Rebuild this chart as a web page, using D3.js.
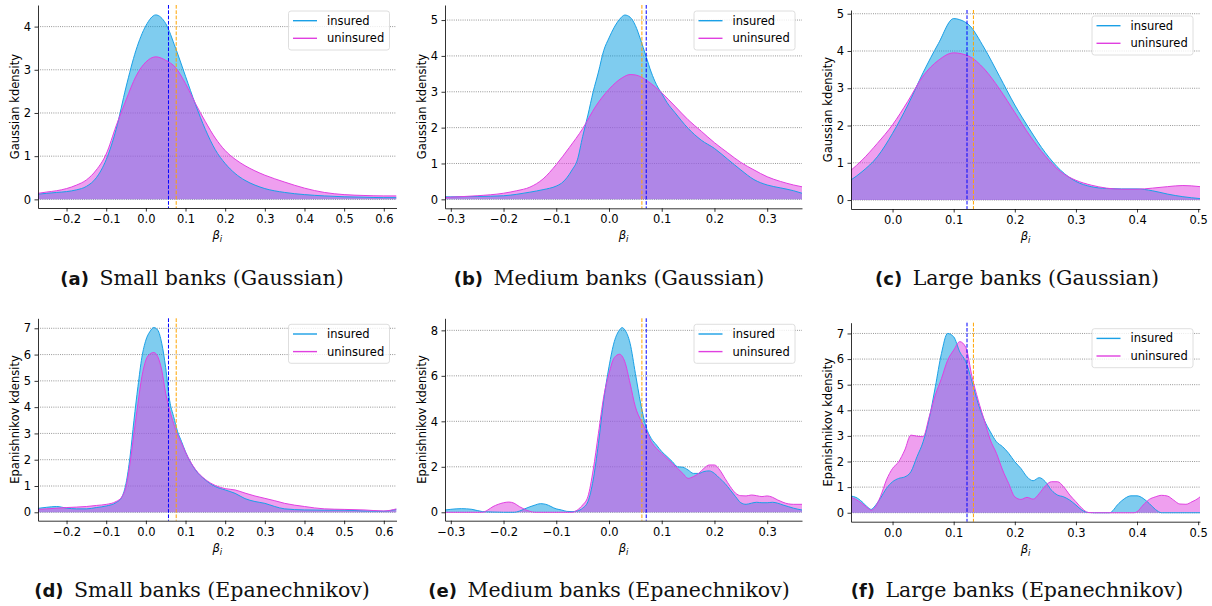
<!DOCTYPE html>
<html>
<head>
<meta charset="utf-8">
<script src="https://cdn.jsdelivr.net/npm/d3@7"></script>
<style>
  body { margin: 0; background: #fff; }
  text { font-family: "DejaVu Sans"; }
</style>
</head>
<body>
<svg id="fig"></svg>
<script>
// ---- data: [beta_i, density] ----
const smallGaussIns = [[-0.272,0.12],[-0.25,0.14],[-0.225,0.16],[-0.2,0.18],[-0.175,0.22],[-0.15,0.3],[-0.125,0.5],[-0.1,0.92],[-0.075,1.62],[-0.05,2.6],[-0.025,3.45],[0,4.02],[0.025,4.27],[0.05,4.07],[0.075,3.5],[0.1,2.85],[0.125,2.2],[0.15,1.62],[0.175,1.15],[0.2,0.83],[0.225,0.6],[0.25,0.44],[0.275,0.33],[0.3,0.25],[0.35,0.16],[0.4,0.11],[0.45,0.08],[0.5,0.06],[0.55,0.05],[0.6,0.04],[0.632,0.04]];
const smallGaussUnins = [[-0.272,0.14],[-0.25,0.17],[-0.225,0.2],[-0.2,0.25],[-0.175,0.33],[-0.15,0.45],[-0.125,0.68],[-0.1,1.05],[-0.075,1.7],[-0.05,2.3],[-0.025,2.85],[0,3.18],[0.025,3.3],[0.05,3.22],[0.075,3.05],[0.1,2.68],[0.125,2.22],[0.15,1.8],[0.175,1.42],[0.2,1.13],[0.225,0.93],[0.25,0.78],[0.275,0.66],[0.3,0.56],[0.35,0.4],[0.4,0.26],[0.45,0.16],[0.5,0.11],[0.55,0.09],[0.6,0.08],[0.632,0.08]];

const medGaussIns = [[-0.311,0.07],[-0.3,0.07],[-0.25,0.08],[-0.2,0.1],[-0.175,0.14],[-0.15,0.2],[-0.125,0.27],[-0.1,0.37],[-0.09,0.45],[-0.08,0.6],[-0.07,0.82],[-0.06,1.1],[-0.05,1.75],[-0.04,2.35],[-0.03,3.0],[-0.02,3.55],[-0.01,4.15],[0,4.5],[0.01,4.8],[0.02,5.02],[0.03,5.14],[0.04,5.08],[0.05,4.85],[0.06,4.45],[0.07,4.0],[0.08,3.55],[0.09,3.2],[0.1,2.95],[0.11,2.7],[0.125,2.42],[0.15,1.98],[0.175,1.65],[0.2,1.42],[0.225,1.12],[0.25,0.82],[0.275,0.55],[0.3,0.4],[0.325,0.32],[0.35,0.24],[0.366,0.17]];
const medGaussUnins = [[-0.311,0.05],[-0.3,0.06],[-0.25,0.1],[-0.2,0.17],[-0.175,0.24],[-0.15,0.34],[-0.125,0.57],[-0.1,0.97],[-0.075,1.45],[-0.05,1.97],[-0.025,2.6],[0,3.07],[0.025,3.39],[0.04,3.48],[0.05,3.47],[0.075,3.28],[0.1,2.97],[0.125,2.6],[0.15,2.22],[0.175,1.9],[0.2,1.58],[0.225,1.3],[0.25,1.03],[0.275,0.82],[0.3,0.63],[0.325,0.5],[0.35,0.4],[0.366,0.35]];

const largeGaussIns = [[-0.068,0.54],[-0.05,0.76],[-0.025,1.16],[0,1.79],[0.025,2.55],[0.05,3.42],[0.075,4.2],[0.1,4.87],[0.11,4.84],[0.125,4.7],[0.15,4.08],[0.175,3.32],[0.2,2.55],[0.225,1.88],[0.25,1.27],[0.275,0.8],[0.3,0.5],[0.325,0.36],[0.35,0.31],[0.375,0.3],[0.4,0.3],[0.425,0.25],[0.45,0.16],[0.475,0.09],[0.503,0.04]];
const largeGaussUnins = [[-0.068,0.8],[-0.05,1.07],[-0.025,1.52],[0,2.02],[0.025,2.65],[0.05,3.33],[0.075,3.75],[0.1,3.95],[0.125,3.86],[0.15,3.52],[0.175,2.98],[0.2,2.35],[0.225,1.72],[0.25,1.18],[0.275,0.76],[0.3,0.53],[0.325,0.4],[0.35,0.32],[0.375,0.29],[0.4,0.29],[0.425,0.32],[0.45,0.36],[0.475,0.39],[0.503,0.36]];

const smallEpanIns = [[-0.272,0.15],[-0.25,0.19],[-0.225,0.22],[-0.2,0.16],[-0.175,0.13],[-0.15,0.13],[-0.125,0.18],[-0.1,0.24],[-0.075,0.37],[-0.06,0.6],[-0.05,1.1],[-0.04,2.1],[-0.03,3.5],[-0.02,4.78],[-0.01,5.9],[0,6.55],[0.01,6.87],[0.02,7.03],[0.03,6.93],[0.04,6.43],[0.05,5.5],[0.06,4.25],[0.07,3.64],[0.08,3.07],[0.09,2.69],[0.1,2.3],[0.125,1.61],[0.15,1.23],[0.175,0.98],[0.2,0.85],[0.225,0.72],[0.25,0.52],[0.275,0.41],[0.3,0.34],[0.325,0.22],[0.35,0.13],[0.4,0.09],[0.45,0.08],[0.5,0.08],[0.55,0.05],[0.6,0.04],[0.632,0.11]];
const smallEpanUnins = [[-0.272,0.11],[-0.25,0.13],[-0.2,0.18],[-0.15,0.22],[-0.125,0.26],[-0.1,0.3],[-0.075,0.41],[-0.06,0.6],[-0.05,0.98],[-0.04,1.86],[-0.03,3.0],[-0.02,4.14],[-0.01,5.16],[0,5.79],[0.01,6.02],[0.02,6.08],[0.03,5.92],[0.04,5.41],[0.05,4.52],[0.06,3.89],[0.07,3.38],[0.08,2.94],[0.09,2.62],[0.1,2.28],[0.125,1.63],[0.15,1.25],[0.175,1.02],[0.2,0.9],[0.225,0.85],[0.25,0.73],[0.275,0.62],[0.3,0.53],[0.325,0.44],[0.35,0.34],[0.4,0.22],[0.45,0.13],[0.5,0.11],[0.55,0.09],[0.6,0.05],[0.632,0.13]];

const medEpanIns = [[-0.311,0.1],[-0.3,0.13],[-0.28,0.16],[-0.26,0.13],[-0.24,0.03],[-0.22,0.01],[-0.2,0],[-0.18,0],[-0.17,0.05],[-0.16,0.15],[-0.14,0.32],[-0.13,0.38],[-0.12,0.35],[-0.1,0.15],[-0.09,0.1],[-0.08,0.04],[-0.07,0.03],[-0.06,0.06],[-0.05,0.18],[-0.04,0.47],[-0.03,1.42],[-0.02,3.03],[-0.01,4.94],[0,6.4],[0.01,7.5],[0.02,8.02],[0.025,8.12],[0.03,8.02],[0.04,7.43],[0.05,6.11],[0.06,4.79],[0.07,3.77],[0.08,3.25],[0.09,2.96],[0.1,2.67],[0.11,2.45],[0.12,2.23],[0.13,2.0],[0.14,1.98],[0.15,1.86],[0.16,1.71],[0.17,1.71],[0.18,1.79],[0.19,1.82],[0.2,1.71],[0.21,1.49],[0.22,1.27],[0.23,0.98],[0.24,0.69],[0.25,0.42],[0.26,0.35],[0.27,0.4],[0.28,0.44],[0.29,0.42],[0.3,0.42],[0.31,0.44],[0.32,0.4],[0.33,0.32],[0.34,0.25],[0.35,0.18],[0.366,0.1]];
const medEpanUnins = [[-0.311,0],[-0.24,0],[-0.23,0.1],[-0.22,0.25],[-0.21,0.35],[-0.2,0.42],[-0.19,0.45],[-0.18,0.4],[-0.17,0.25],[-0.16,0.13],[-0.15,0.04],[-0.14,0],[-0.07,0],[-0.06,0.1],[-0.05,0.32],[-0.04,0.69],[-0.03,1.86],[-0.02,3.47],[-0.01,5.08],[0,6.1],[0.01,6.8],[0.02,6.95],[0.03,6.62],[0.04,5.67],[0.05,4.64],[0.06,4.06],[0.07,3.62],[0.08,3.11],[0.09,2.81],[0.1,2.59],[0.11,2.37],[0.12,2.15],[0.13,1.93],[0.14,1.71],[0.15,1.49],[0.16,1.57],[0.17,1.71],[0.18,1.93],[0.19,2.08],[0.2,2.08],[0.21,1.86],[0.22,1.49],[0.23,1.13],[0.24,0.84],[0.25,0.73],[0.26,0.72],[0.27,0.76],[0.28,0.73],[0.29,0.69],[0.3,0.72],[0.31,0.66],[0.32,0.54],[0.33,0.44],[0.34,0.37],[0.35,0.35],[0.366,0.35]];

const largeEpanIns = [[-0.068,0.65],[-0.06,0.6],[-0.05,0.43],[-0.04,0.2],[-0.035,0.13],[-0.03,0.23],[-0.02,0.56],[-0.01,0.95],[0,1.21],[0.01,1.34],[0.02,1.4],[0.03,1.6],[0.04,2.19],[0.05,2.77],[0.06,3.68],[0.07,4.92],[0.08,6.22],[0.09,7.0],[0.1,6.87],[0.11,6.28],[0.12,5.89],[0.13,5.11],[0.14,4.27],[0.15,3.62],[0.16,3.16],[0.17,2.77],[0.18,2.58],[0.19,2.32],[0.2,1.99],[0.21,1.73],[0.22,1.4],[0.23,1.25],[0.24,1.37],[0.25,1.21],[0.26,0.88],[0.27,0.69],[0.28,0.62],[0.29,0.49],[0.3,0.3],[0.31,0.1],[0.32,0.01],[0.33,0],[0.355,0],[0.37,0.36],[0.38,0.56],[0.39,0.66],[0.4,0.66],[0.41,0.56],[0.42,0.36],[0.43,0.13],[0.44,0],[0.503,0]];
const largeEpanUnins = [[-0.068,0.6],[-0.06,0.52],[-0.05,0.36],[-0.04,0.17],[-0.035,0.1],[-0.03,0.17],[-0.02,0.62],[-0.01,1.28],[0,1.73],[0.01,1.99],[0.02,2.45],[0.03,3.03],[0.04,2.99],[0.05,2.97],[0.06,3.75],[0.07,4.6],[0.08,5.24],[0.09,5.95],[0.1,6.35],[0.11,6.68],[0.12,6.45],[0.13,5.31],[0.14,4.4],[0.15,3.62],[0.16,2.84],[0.17,2.32],[0.18,1.67],[0.19,1.14],[0.2,0.62],[0.21,0.52],[0.22,0.6],[0.23,0.53],[0.24,0.75],[0.25,1.05],[0.26,1.21],[0.27,1.21],[0.28,1.01],[0.29,0.69],[0.3,0.43],[0.31,0.17],[0.32,0.01],[0.33,0],[0.395,0],[0.4,0.04],[0.41,0.3],[0.42,0.52],[0.43,0.62],[0.44,0.68],[0.45,0.65],[0.46,0.49],[0.47,0.34],[0.48,0.33],[0.49,0.43],[0.5,0.56],[0.503,0.62]];

// dashed vertical lines (small, medium, large)
const blueLineX = [0.057, 0.0706, 0.1218];
const orangeLineX = [0.0765, 0.0624, 0.1323];

// tick values
const xTicksSmall = [-0.2, -0.1, 0, 0.1, 0.2, 0.3, 0.4, 0.5, 0.6];
const xTicksMedium = [-0.3, -0.2, -0.1, 0, 0.1, 0.2, 0.3];
const xTicksLarge = [0, 0.1, 0.2, 0.3, 0.4, 0.5];
const yTicksA = [0, 1, 2, 3, 4];
const yTicksBC = [0, 1, 2, 3, 4, 5];
const yTicksDF = [0, 1, 2, 3, 4, 5, 6, 7];
const yTicksE = [0, 2, 4, 6, 8];

const seriesNames = ["insured", "uninsured"];
const captionTags = ["(a)", "(b)", "(c)", "(d)", "(e)", "(f)"];
const captionTexts = ["Small banks (Gaussian)", "Medium banks (Gaussian)", "Large banks (Gaussian)",
  "Small banks (Epanechnikov)", "Medium banks (Epanechnikov)", "Large banks (Epanechnikov)"];

// ---- layout ----
const W = 1212, H = 606;
const insColor = "#1aa0e6", uninsColor = "#e040e0";
const insFill = "#0099e0", uninsFill = "#e040e0";

const panels = [
  {ins: smallGaussIns, unins: smallGaussUnins, size: 0, ylab: "Gaussian kdensity", xt: xTicksSmall, yt: yTicksA,
   xd: [-0.272, 0.632], yd: [-0.2, 4.5], box: [38, 396.5, 5, 208], cap: [202, 285]},
  {ins: medGaussIns, unins: medGaussUnins, size: 1, ylab: "Gaussian kdensity", xt: xTicksMedium, yt: yTicksBC,
   xd: [-0.311, 0.366], yd: [-0.25, 5.42], box: [445, 802, 5, 208.3], cap: [609, 285]},
  {ins: largeGaussIns, unins: largeGaussUnins, size: 2, ylab: "Gaussian kdensity", xt: xTicksLarge, yt: yTicksBC,
   xd: [-0.068, 0.503], yd: [-0.24, 5.1], box: [851, 1200, 10, 209], cap: [1017, 285]},
  {ins: smallEpanIns, unins: smallEpanUnins, size: 0, ylab: "Epanishnikov kdensity", xt: xTicksSmall, yt: yTicksDF,
   xd: [-0.272, 0.632], yd: [-0.32, 7.38], box: [38, 396.5, 318.3, 520.7], cap: [202, 597]},
  {ins: medEpanIns, unins: medEpanUnins, size: 1, ylab: "Epanishnikov kdensity", xt: xTicksMedium, yt: yTicksE,
   xd: [-0.311, 0.366], yd: [-0.37, 8.53], box: [445, 802, 318.3, 520.7], cap: [609, 597]},
  {ins: largeEpanIns, unins: largeEpanUnins, size: 2, ylab: "Epanishnikov kdensity", xt: xTicksLarge, yt: yTicksDF,
   xd: [-0.068, 0.503], yd: [-0.35, 7.42], box: [851, 1200, 322.7, 521.7], cap: [1017, 597]}
];

const svg = d3.select("#fig").attr("width", W).attr("height", H);
svg.append("rect").attr("width", W).attr("height", H).attr("fill", "#fff");
const fmt = d3.format(".1f");

panels.forEach((p, i) => {
  const [x0, x1, y0, y1] = p.box;
  const x = d3.scaleLinear().domain(p.xd).range([x0, x1]);
  const y = d3.scaleLinear().domain(p.yd).range([y1, y0]);
  const g = svg.append("g");

  const clipId = "clip" + i;
  g.append("clipPath").attr("id", clipId)
    .append("rect").attr("x", x0).attr("y", y0).attr("width", x1 - x0).attr("height", y1 - y0);

  // dotted horizontal grid
  g.append("g").selectAll("line").data(p.yt).join("line")
    .attr("x1", x0).attr("x2", x1)
    .attr("y1", d => y(d)).attr("y2", d => y(d))
    .attr("stroke", "#6e6e6e").attr("stroke-width", 0.8).attr("stroke-dasharray", "0.9,1.3");

  const area = d3.area().x(d => x(d[0])).y0(y(0)).y1(d => y(d[1])).curve(d3.curveMonotoneX);
  const line = area.lineY1();
  const plot = g.append("g").attr("clip-path", `url(#${clipId})`);
  plot.append("path").datum(p.ins).attr("d", area).attr("fill", insFill).attr("fill-opacity", 0.5);
  plot.append("path").datum(p.unins).attr("d", area).attr("fill", uninsFill).attr("fill-opacity", 0.5);
  plot.append("path").datum(p.ins).attr("d", line).attr("fill", "none").attr("stroke", insColor).attr("stroke-width", 1);
  plot.append("path").datum(p.unins).attr("d", line).attr("fill", "none").attr("stroke", uninsColor).attr("stroke-width", 1);

  // dashed vertical markers
  [[blueLineX[p.size], "#0000ff"], [orangeLineX[p.size], "#ffa500"]].forEach(([v, c]) => {
    g.append("line")
      .attr("x1", x(v)).attr("x2", x(v)).attr("y1", y0).attr("y2", y1)
      .attr("stroke", c).attr("stroke-width", 1).attr("stroke-dasharray", "3.7,1.6");
  });

  // axes
  const xAxis = g.append("g").attr("transform", `translate(0,${y1})`)
    .call(d3.axisBottom(x).tickValues(p.xt).tickFormat(fmt).tickSize(3.5).tickPadding(3.5).tickSizeOuter(0));
  const yAxis = g.append("g").attr("transform", `translate(${x0},0)`)
    .call(d3.axisLeft(y).tickValues(p.yt).tickFormat(d3.format("d")).tickSize(3.5).tickPadding(3.5).tickSizeOuter(0));
  [xAxis, yAxis].forEach(a => {
    a.attr("font-family", "DejaVu Sans").attr("font-size", 11.5);
    a.selectAll("path, line").attr("stroke-width", 0.8);
  });

  // axis labels
  g.append("text")
    .attr("transform", `translate(${x0 - 23},${(y0 + y1) / 2}) rotate(-90)`)
    .attr("text-anchor", "middle").attr("dominant-baseline", "central")
    .attr("font-size", 11.5).text(p.ylab);
  const xl = g.append("text")
    .attr("x", (x0 + x1) / 2).attr("y", y1 + 31)
    .attr("text-anchor", "middle").attr("font-size", 11.5);
  xl.append("tspan").attr("font-style", "italic").text("β");
  xl.append("tspan").attr("font-style", "italic").attr("font-size", 8.5).attr("dy", 3).text("i");

  // legend
  const lw = 101, lh = 39;
  const lx = x1 - 7 - lw, ly = y0 + 6;
  const leg = g.append("g").attr("transform", `translate(${lx},${ly})`);
  leg.append("rect").attr("width", lw).attr("height", lh).attr("rx", 2.5)
    .attr("fill", "#fff").attr("fill-opacity", 0.8).attr("stroke", "#d6d6d6").attr("stroke-width", 0.8);
  seriesNames.forEach((name, k) => {
    const ry = 9.7 + k * 17.6;
    leg.append("line").attr("x1", 4.5).attr("x2", 28.5).attr("y1", ry).attr("y2", ry)
      .attr("stroke", k === 0 ? insColor : uninsColor).attr("stroke-width", 1.4);
    leg.append("text").attr("x", 38.5).attr("y", ry).attr("dy", "0.35em")
      .attr("font-size", 11.5).text(name);
  });

  // caption, centred under its subfigure
  const cap = svg.append("text").attr("x", p.cap[0]).attr("y", p.cap[1])
    .attr("text-anchor", "middle").attr("fill", "#111");
  cap.append("tspan").attr("font-family", "DejaVu Sans").attr("font-weight", "bold")
    .attr("font-size", 18).text(captionTags[i]);
  cap.append("tspan").attr("font-family", "DejaVu Serif").attr("font-size", 20.5)
    .attr("dx", 4).text(" " + captionTexts[i]);
});
</script>
</body>
</html>
